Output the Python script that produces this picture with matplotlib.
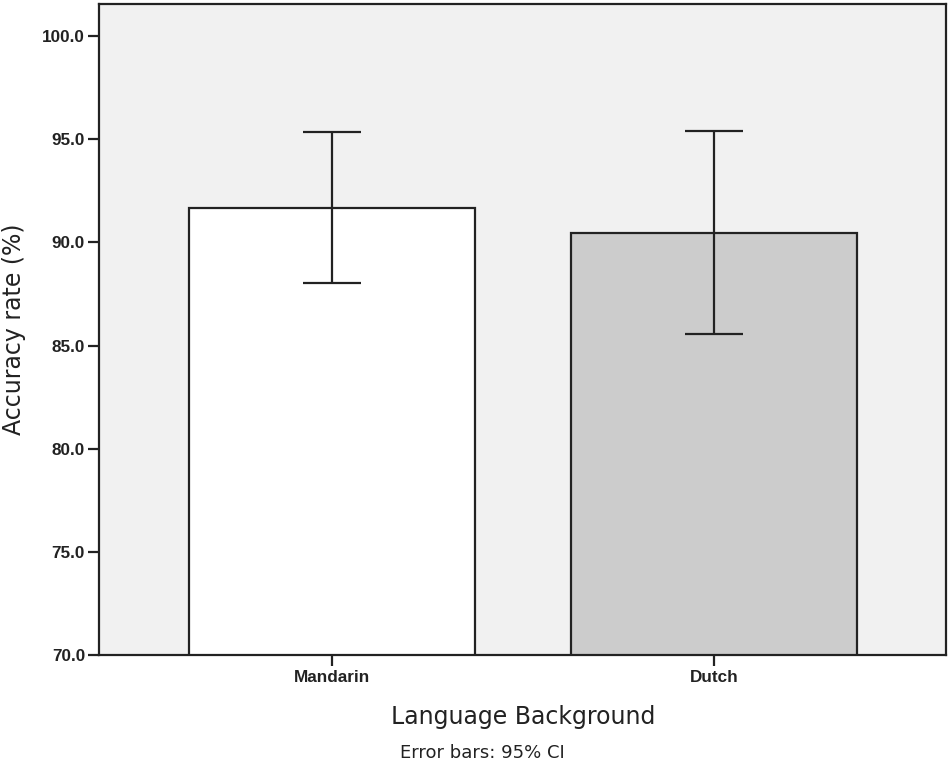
import matplotlib.pyplot as plt
import numpy as np

plt.rcParams['font.family'] = ['Liberation Sans', 'DejaVu Sans']

# data
groups = ["Mandarin", "Dutch"]
means = [91.67, 90.46]
ci_low = [88.03, 85.56]
ci_high = [95.35, 95.40]
bar_colors = ["#ffffff", "#cccccc"]
y_ticks = [70.0, 75.0, 80.0, 85.0, 90.0, 95.0, 100.0]

x = np.arange(len(groups))
means_arr = np.array(means)
yerr = [means_arr - np.array(ci_low), np.array(ci_high) - means_arr]

fig = plt.figure(figsize=(9.5, 7.64), dpi=100)
ax = fig.add_axes([0.1042, 0.1427, 0.892, 0.8527])
ax.set_facecolor("#f1f1f1")

ax.bar(x, means_arr, width=0.75, color=bar_colors, edgecolor="#222222",
       linewidth=1.6, zorder=2)
ax.errorbar(x, means_arr, yerr=yerr, fmt="none", ecolor="#222222",
            elinewidth=1.6, capsize=21, capthick=1.6, zorder=3)

ax.set_xlim(-0.611, 1.609)
ax.set_ylim(70, 101.58)
ax.set_yticks(y_ticks)
ax.set_yticklabels([f"{t:.1f}" for t in y_ticks], fontsize=12.3, fontweight="bold", color="#222222")
ax.set_xticks(x)
ax.set_xticklabels(groups, fontsize=12.3, fontweight="bold", color="#222222")
ax.tick_params(axis="both", length=8, width=1.6, color="#222222")
ax.tick_params(axis="x", pad=3)
ax.tick_params(axis="y", pad=2)

for s in ax.spines.values():
    s.set_linewidth(1.6)
    s.set_color("#222222")

ax.set_ylabel("Accuracy rate (%)", fontsize=17, family="DejaVu Sans",
              color="#222222", labelpad=12)
ax.set_xlabel("Language Background", fontsize=17, family="DejaVu Sans",
              color="#222222", labelpad=14)
fig.text(0.508, 0.015, "Error bars: 95% CI", ha="center", va="center",
         fontsize=13, family="DejaVu Sans", color="#222222")

fig.savefig("out.png", dpi=100)
